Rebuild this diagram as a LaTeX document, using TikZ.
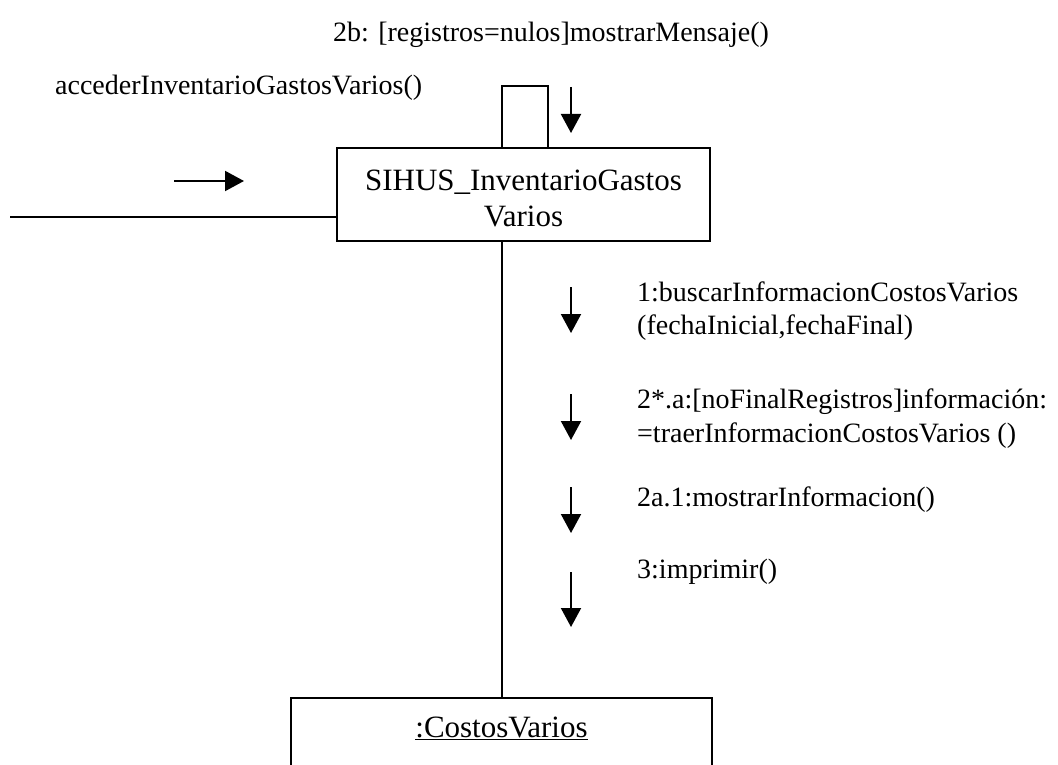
\documentclass[tikz,border=0pt]{standalone}
\usepackage{fontspec}
\setmainfont{Liberation Serif}
\usetikzlibrary{arrows.meta,calc}
\begin{document}
\begin{tikzpicture}[x=1pt,y=-1pt,
  line/.style={line width=2pt},
  obj/.style={draw,line width=2pt,rectangle,inner sep=0pt,font=\fontsize{31}{36}\selectfont,align=center},
  objtext/.style={inner sep=0pt,anchor=base,font=\fontsize{31}{36}\selectfont},
  lbl/.style={inner sep=0pt,anchor=base west,font=\fontsize{28}{32}\selectfont},
  msg/.style={line width=2pt,-{Triangle[width=20pt,length=19pt]}}]
\useasboundingbox (0,0) rectangle (1058,765);
\fill[white] (0,0) rectangle (1058,765);
\clip (0,0) rectangle (1058,765);

% objects
\node[obj,minimum width=373pt,minimum height=93pt] (sihus) at (523.5,194.5) {\rule{0pt}{28pt}SIHUS\_InventarioGastos\\Varios};
\node[obj,minimum width=421pt,minimum height=140pt,anchor=north] (costos) at (501.5,697) {};
\node[objtext] (costostext) at (501.5,737) {\underline{:CostosVarios}};

% links
\draw[line] (costos.north) -- (costos.north |- sihus.south);
\coordinate (ext) at (10,217);
\draw[line] (ext) -- (ext -| sihus.west);
\draw[line] ($(sihus.north)+(-21.5,0)$) -- ++(0,-61) -- ++(46,0) -- ++(0,61);

% labels
\node[lbl] (title) at (333,42) {2b: [registros=nulos]mostrarMensaje()};
\node[lbl] (acc) at (55,95) {accederInventarioGastosVarios()};
\node[lbl] (m1a) at (637,301) {1:buscarInformacionCostosVarios};
\node[lbl] (m1b) at (637,334) {(fechaInicial,fechaFinal)};
\node[lbl] (m2a) at (637,408) {2*.a:[noFinalRegistros]información:};
\node[lbl] (m2b) at (637,442) {=traerInformacionCostosVarios ()};
\node[lbl] (m3) at (637,506) {2a.1:mostrarInformacion()};
\node[lbl] (m4) at (637,578) {3:imprimir()};

% message arrows
\coordinate (a0s) at (571,87);  \coordinate (a0e) at (571,133);
\coordinate (ins) at (174,181); \coordinate (ine) at (244,181);
\coordinate (a1s) at (571,287); \coordinate (a1e) at (571,333);
\coordinate (a2s) at (571,394); \coordinate (a2e) at (571,440);
\coordinate (a3s) at (571,487); \coordinate (a3e) at (571,533);
\coordinate (a4s) at (571,572); \coordinate (a4e) at (571,627);
\draw[msg] (a0s) -- (a0e);
\draw[msg] (ins) -- (ine);
\draw[msg] (a1s) -- (a1e);
\draw[msg] (a2s) -- (a2e);
\draw[msg] (a3s) -- (a3e);
\draw[msg] (a4s) -- (a4e);
\end{tikzpicture}
\end{document}
